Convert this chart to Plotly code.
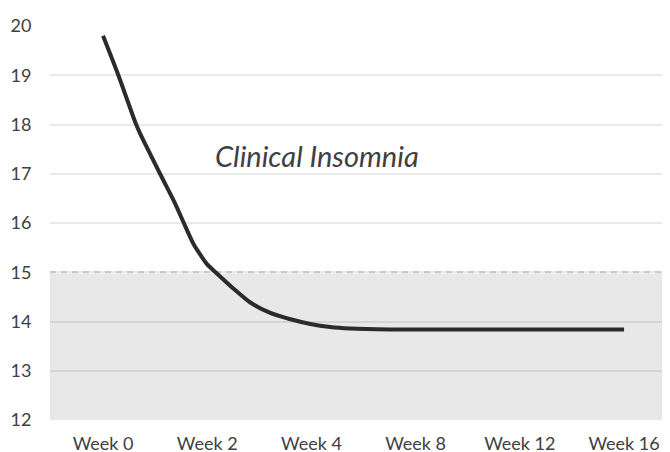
import plotly.graph_objects as go

# Category axis labels (equally spaced positions 0..5)
categories = ["Week 0", "Week 2", "Week 4", "Week 8", "Week 12", "Week 16"]
category_pos = [0, 1, 2, 3, 4, 5]

# Curve sampled along the category axis (position in category units)
curve_pos = [0.00, 0.147, 0.314, 0.355, 0.547, 0.691, 0.771, 0.867, 0.995,
             1.09, 1.25, 1.41, 1.60, 1.79, 1.99, 2.18, 2.37, 2.75, 3.33, 5.00]
curve_values = [19.80, 19.00, 18.02, 17.82, 17.00, 16.40, 16.02, 15.58, 15.17,
                14.98, 14.67, 14.39, 14.18, 14.05, 13.95, 13.89, 13.86, 13.84, 13.84, 13.84]

y_ticks = [12, 13, 14, 15, 16, 17, 18, 19, 20]
threshold = 15
y_min, y_max = 12, 20
label_text = "Clinical Insomnia"
label_pos = (2.05, 17.38)

FONT = "Lato, 'Open Sans', sans-serif"
TEXT = "#404040"

fig = go.Figure()
fig.add_trace(go.Scatter(
    x=curve_pos, y=curve_values, mode="lines",
    line=dict(color="#2b2b2b", width=4, shape="spline", smoothing=0.6),
    hoverinfo="skip", showlegend=False,
))

# Shaded clinical region
fig.add_shape(type="rect", xref="paper", yref="y", x0=0, x1=1, y0=y_min, y1=threshold,
              fillcolor="#e8e8e8", line=dict(width=0), layer="below")
# Threshold dashed line
fig.add_shape(type="line", xref="paper", yref="y", x0=0, x1=1, y0=threshold, y1=threshold,
              line=dict(color="#ffffff", width=2.5), layer="between")
fig.add_shape(type="line", xref="paper", yref="y", x0=0, x1=1, y0=threshold, y1=threshold,
              line=dict(color="#dedede", width=2.5, dash="6px,5px"), layer="between")

fig.add_annotation(x=label_pos[0], y=label_pos[1], text="<i>" + label_text + "</i>",
                   showarrow=False, font=dict(family=FONT, size=29, color=TEXT))

# The page body adds an 8px offset, so margins are shifted to compensate
fig.update_layout(
    width=670, height=452,
    margin=dict(l=42, r=8, t=18, b=40),
    paper_bgcolor="white", plot_bgcolor="white",
    font=dict(family=FONT, color=TEXT, size=18),
)
fig.update_xaxes(range=[-0.509, 5.441], tickvals=category_pos, ticktext=categories,
                 showgrid=False, zeroline=False, showline=False, automargin=False,
                 ticks="outside", ticklen=7, tickcolor="rgba(0,0,0,0)",
                 tickfont=dict(size=18, family=FONT, color=TEXT))
fig.update_yaxes(range=[y_min, y_max], tickvals=y_ticks,
                 showgrid=True, gridcolor="rgba(0,0,0,0.085)", gridwidth=2,
                 zeroline=False, showline=False, automargin=False,
                 ticks="outside", ticklen=14, tickcolor="rgba(0,0,0,0)",
                 tickfont=dict(size=18, family=FONT, color=TEXT))

fig.write_html("out.html")
